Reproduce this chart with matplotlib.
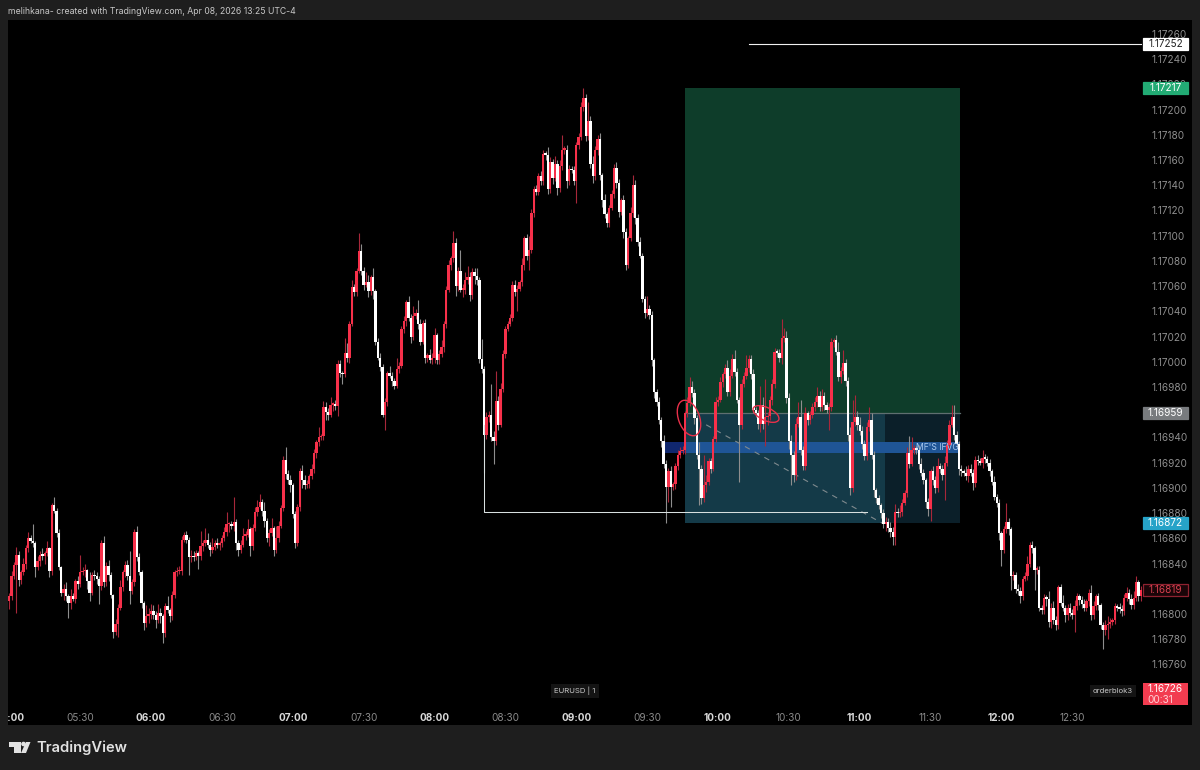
import matplotlib
matplotlib.use("Agg")
import matplotlib.pyplot as plt
from matplotlib.patches import Rectangle, Ellipse, Polygon, Circle
from matplotlib.transforms import Affine2D
import numpy as np

plt.rcParams['font.family'] = ['Inter', 'DejaVu Sans']

# EURUSD 1-minute closes, as points above 1.16000 (1 point = 0.00001); index = minutes after 05:00
closes = [
814,830,839,847,827,833,840,852,860,858, 856,837,842,847,846,848,852,834,886,882,
864,837,817,820,814,809,814,812,826,824, 833,834,835,826,817,831,830,828,822,856,
825,838,831,815,786,792,805,821,833,839, 830,818,825,865,845,833,809,793,798,800,
802,799,795,801,798,785,806,803,798,815, 833,834,834,859,863,859,845,846,845,848,
846,854,856,859,855,851,853,856,855,856, 860,865,871,871,870,873,856,851,855,862,
863,867,854,868,881,885,889,882,874,860, 864,868,851,860,870,884,922,911,906,902,
879,856,885,913,906,902,903,909,915,928, 936,940,941,964,960,958,966,966,965,998,
991,990,1007,1003,1030,1059,1055,1072,1088,1072, 1061,1063,1056,1067,1056,1016,1003,996,958,968,
991,989,985,981,994,997,1026,1032,1047,1035, 1020,1036,1039,1030,1016,1031,1003,1005,1001,1003,
1021,1001,1006,1012,1030,1057,1077,1082,1094,1060, 1072,1057,1057,1065,1067,1053,1071,1068,1065,1002,
994,942,956,958,940,937,969,950,978,1006, 1026,1030,1035,1061,1055,1058,1063,1077,1098,1084,
1089,1118,1137,1135,1147,1143,1165,1164,1137,1158, 1146,1157,1138,1155,1168,1168,1143,1153,1152,1143,
1172,1178,1202,1209,1179,1191,1157,1147,1168,1177, 1148,1128,1117,1110,1122,1133,1154,1142,1119,1128,
1103,1077,1098,1118,1140,1114,1095,1084,1050,1039, 1042,1037,1001,976,968,954,937,919,901,913,
901,903,917,926,929,930,959,967,980,975, 955,926,915,892,902,905,921,915,939,968,
970,984,990,995,976,989,1002,992,970,950, 982,989,995,1002,990,962,959,951,966,951,
956,957,970,982,1008,1007,1003,1019,1019,971, 937,926,910,951,956,930,917,959,954,958,
964,968,973,964,973,966,962,964,1016,1017, 1008,988,993,999,985,942,900,952,956,950,
945,935,925,948,954,926,898,892,886,880, 871,873,868,865,861,881,880,881,888,896,
928,919,930,931,930,919,912,906,889,883, 913,906,900,917,915,910,920,934,950,956,
942,935,915,913,912,909,915,912,904,922, 921,920,924,923,920,913,905,893,888,864,
851,867,873,867,830,831,820,818,814,828, 830,840,855,852,835,835,805,803,813,812,
794,805,795,791,821,809,805,799,805,801, 799,806,814,811,808,805,810,817,799,806,
814,807,791,787,791,792,794,795,806,805, 804,802,813,817,812,807,813,825,814,819,
]
# upper wicks (points above the body top)
wick_up = [
3,4,2,6,3,2,4,3,5,3, 13,2,4,3,5,2,6,1,2,7,
2,3,1,4,5,2,6,3,2,4, 14,3,5,1,7,2,4,3,2,3,
6,3,5,2,1,4,3,6,2,3, 4,20,3,2,5,3,2,1,9,5,
6,5,3,7,4,2,3,8,2,3, 2,3,4,3,2,3,2,5,4,3,
2,12,3,9,5,2,7,3,4,2, 3,4,10,2,3,20,2,3,4,6,
3,8,2,3,4,5,6,2,7,2, 3,8,2,10,4,2,3,10,3,4,
2,3,2,3,5,4,3,2,4,3, 2,8,2,5,4,3,6,2,4,3,
3,2,12,8,2,6,3,2,14,5, 3,8,6,2,7,2,3,4,2,3,
2,6,3,2,9,3,2,4,2,5, 3,8,3,10,4,2,3,2,5,4,
6,2,3,5,2,3,4,2,10,4, 3,17,5,6,9,4,3,3,6,2,
16,3,4,3,24,5,24,4,5,3, 2,2,3,3,4,3,2,5,2,3,
11,3,2,3,3,4,3,2,6,4, 3,6,3,5,12,3,4,3,2,3,
2,3,4,8,3,15,4,6,3,3, 4,2,5,2,2,3,3,4,3,2,
4,3,2,5,8,4,3,4,2,2, 10,3,3,2,2,4,2,5,3,3,
4,2,3,4,3,3,2,5,8,5, 3,3,10,3,24,5,3,3,2,4,
3,4,2,3,6,5,4,7,3,2, 4,3,10,3,3,4,2,3,15,6,
30,3,3,4,3,2,3,15,8,5, 4,5,3,4,12,14,3,5,2,3,
3,4,7,4,5,3,2,3,3,2, 4,8,3,10,3,3,6,18,18,5,
6,4,3,4,10,5,3,2,2,2, 3,4,3,5,4,6,3,5,3,2,
4,13,10,3,2,4,5,3,2,3, 2,4,3,7,3,3,5,4,4,10,
10,3,2,3,2,5,3,4,3,3, 4,3,6,3,2,3,2,4,2,3,
2,3,15,3,2,3,2,4,3,2, 3,6,2,3,2,3,3,2,3,2,
6,4,5,3,2,3,6,2,3,4, 3,5,3,2,3,4,2,3,6,4,
2,3,2,3,4,6,3,2,3,2, 4,3,3,4,3,4,5,5,2,3,
]
# lower wicks (points below the body bottom)
wick_down = [
6,3,2,38,5,3,2,4,3,2, 3,8,2,4,3,6,2,5,3,2,
3,2,3,6,4,12,5,2,3,4, 3,2,5,6,7,2,3,4,14,3,
4,3,5,2,5,3,10,2,3,4, 3,10,2,3,3,2,4,6,3,5,
4,3,6,2,5,8,3,2,4,3, 2,3,2,3,2,3,14,4,3,2,
10,3,4,2,3,5,3,2,3,4, 3,2,3,6,3,4,5,5,3,2,
3,2,8,3,2,3,2,4,5,3, 6,2,5,3,3,2,2,4,3,5,
3,4,2,3,6,3,2,3,2,3, 4,3,2,3,6,4,2,5,3,8,
3,8,2,3,4,2,3,3,2,3, 4,2,5,3,6,3,2,3,2,12,
3,2,4,3,2,3,2,3,4,3, 5,3,2,4,3,2,4,3,2,3,
4,3,3,2,4,3,2,4,3,8, 4,2,6,3,3,5,3,6,4,3,
3,30,3,4,3,18,3,4,2,2, 3,2,2,3,3,15,2,3,4,3,
11,3,3,3,3,3,3,4,4,3, 5,3,6,3,3,3,5,3,2,3,
17,3,2,3,4,3,3,5,3,4, 4,5,3,3,3,2,3,4,4,3,
5,4,3,2,3,5,3,2,3,4, 3,3,4,5,3,3,5,3,29,12,
16,3,4,3,2,2,3,3,2,3, 4,3,29,5,3,5,3,3,2,3,
3,2,4,3,3,3,2,3,3,45, 3,2,3,3,4,3,3,4,7,4,
18,6,3,4,3,3,3,5,3,4, 6,24,5,4,3,4,3,3,4,3,
3,3,4,3,3,4,3,16,3,4, 3,3,5,3,4,5,6,3,3,4,
3,4,3,3,3,3,5,4,3,4, 3,5,3,4,6,6,3,3,3,2,
3,3,2,3,3,4,3,3,5,5, 9,4,4,3,3,4,20,3,3,2,
4,3,5,4,3,3,4,3,6,3, 3,2,4,3,3,4,3,3,3,5,
13,3,3,4,11,3,3,3,5,3, 2,3,3,4,16,3,3,3,3,6,
4,5,3,4,3,3,3,5,4,3, 3,13,3,4,3,3,3,4,4,3,
3,4,3,15,4,11,3,3,3,3, 3,4,3,3,4,3,3,3,4,4,
]
minutes = list(range(len(closes)))

price_ticks = [1.16760,1.16780,1.16800,1.16840,1.16860,1.16880,1.16900,1.16920,1.16940,
               1.16980,1.17000,1.17020,1.17040,1.17060,1.17080,1.17100,1.17120,1.17140,1.17160,1.17180,1.17200,
               1.17220,1.17240,1.17260]
time_ticks = [0,30,60,90,120,150,180,210,240,270,300,330,360,390,420,450]
time_labels = ['05:00','05:30','06:00','06:30','07:00','07:30','08:00','08:30','09:00','09:30','10:00','10:30',
               '11:00','11:30','12:00','12:30']

BG = '#1e1e1e'
UP, DOWN = '#f7304a', '#ffffff'
W, H = 1200, 770
fig = plt.figure(figsize=(W/100, H/100), dpi=100, facecolor=BG)
px = Affine2D().scale(1, -1).translate(0, H)   # pixel coordinates, origin at top left

fig.patches.append(Rectangle((8, 20), 1184, 705, transform=px, facecolor='black', edgecolor='none', zorder=0))
ax = fig.add_axes([8/W, 1-706/H, 1134/W, 686/H], zorder=1)
ax.set_facecolor('none')
ax.set_xlim(-0.55, 479.5)
ax.set_ylim(1.16727, 1.17271)
for s in ax.spines.values():
    s.set_visible(False)

c = np.array(closes) * 1e-5 + 1.16
o = np.r_[c[0] - 0.00004, c[:-1]]
top, bot = np.maximum(o, c), np.minimum(o, c)
hi = top + np.array(wick_up) * 1e-5
lo = bot - np.array(wick_down) * 1e-5
is_up = c >= o

# position tools (drawn under the candles)
def band(m0, m1, p0, p1, color, alpha=1.0, z=1):
    ax.add_patch(Rectangle((m0, p0), m1 - m0, p1 - p0, facecolor=color, edgecolor='none', alpha=alpha, zorder=z))

band(286, 402.3, 1.16959, 1.17217, '#0e3d2a')
band(286, 370.5, 1.16872, 1.16959, '#143a48')
band(370.5, 402.3, 1.16872, 1.16959, '#0b1f29')
ax.plot([286, 402.3], [1.16959, 1.16959], color='#5f6f70', lw=0.9, zorder=2)
band(277, 286, 1.169275, 1.169365, '#10276e', z=2)
band(286, 402.3, 1.169275, 1.169365, '#1f5596', z=2)
ax.plot([295, 369.5], [1.16950, 1.16872], color='#7f8a8e', lw=0.8, ls=(0, (5, 5)), zorder=2)

# candles
ax.vlines(minutes, lo, hi, colors=['#a8273a' if u else '#8e8e8e' for u in is_up], lw=0.8, zorder=3)
ax.bar(minutes, np.maximum(top - bot, 0.000012), bottom=bot, width=1.0,
       color=[UP if u else DOWN for u in is_up], linewidth=0, zorder=4)

# drawings on top
ax.plot([201, 201, 363], [1.16950, 1.16881, 1.16881], color='#d8e0e0', lw=0.75, zorder=5)
ax.plot([313, 479.5], [1.17252, 1.17252], color='#f0f0f0', lw=0.8, zorder=5)
ax.text(402, 1.16932, "MF'S IFVG", color='#a9c9ef', fontsize=6.2, ha='right', va='center', zorder=6)

# ticks
ax.yaxis.tick_right()
ax.set_yticks(price_ticks)
ax.set_yticklabels([f'{p:.5f}' for p in price_ticks], color='#8e8e8e', fontsize=7.2)
ax.set_xticks(time_ticks)
ax.set_xticklabels(time_labels, color='#8a8a8a', fontsize=7.2)
for lab, t in zip(ax.get_xticklabels(), time_ticks):
    if t % 60 == 0:
        lab.set_color('#d8d8d8')
        lab.set_fontweight('bold')
ax.tick_params(axis='both', length=0)
ax.tick_params(axis='y', pad=7)
ax.tick_params(axis='x', pad=5)
fig.canvas.draw()

def price_to_y(p):
    return H - ax.transData.transform((0, p))[1]

def price_tag(p, fc, tc, ec=None, txt=None):
    y = price_to_y(p)
    fig.patches.append(Rectangle((1143, y - 6), 45, 12, transform=px, facecolor=fc, edgecolor=ec or fc, lw=0.9, zorder=5))
    fig.text(1165.5/W, 1 - y/H, txt or f'{p:.5f}', color=tc, fontsize=7.2, ha='center', va='center', zorder=6)

price_tag(1.17252, '#ffffff', '#222222')
price_tag(1.17217, '#22ab74', '#ffffff')
price_tag(1.16959, '#787b7e', '#ffffff')
price_tag(1.16872, '#26a3c8', '#ffffff')
price_tag(1.16819, '#1a0508', '#d8404f', ec='#8e2230')

fig.patches.append(Rectangle((1143, 683), 45, 22, transform=px, facecolor='#f23c50', edgecolor='none', zorder=5))
fig.text(1165.5/W, 1 - 689/H, '1.16726', color='#ffffff', fontsize=7.2, ha='center', va='center', zorder=6)
fig.text(1160/W, 1 - 700/H, '00:31', color='#ffd0d5', fontsize=7.2, ha='center', va='center', zorder=6)

# small pane labels
fig.text(575/W, 1 - 691/H, 'EURUSD | 1', color='#c8c8c8', fontsize=5.6, ha='center', va='center', zorder=6,
         bbox=dict(facecolor='#141414', edgecolor='none', pad=2.2))
fig.text(1113/W, 1 - 691/H, 'orderblok3', color='#c8c8c8', fontsize=5.6, ha='center', va='center', zorder=6,
         bbox=dict(facecolor='#141414', edgecolor='none', pad=2.2))

# hand-drawn red ellipses
for (cx, cy, w, h, ang) in [(689, 418, 21, 37, -20), (766, 414, 28, 13, 25)]:
    fig.patches.append(Ellipse((cx, cy), w, h, angle=ang, transform=px, facecolor='none',
                               edgecolor='#e8304a', lw=1.0, zorder=6))

# left edge mask, so the first time label is cut as in the screenshot
fig.patches.append(Rectangle((0, 0), 8, 770, transform=px, facecolor=BG, edgecolor='none', zorder=4))

# header and logo
fig.text(8/W, 1 - 11.5/H, 'melihkana- created with TradingView.com, Apr 08, 2026 13:25 UTC-4',
         color='#c8c8c8', fontsize=6.25, ha='left', va='center', zorder=6)
LOGO = '#e2e2e2'
fig.patches.append(Polygon([(9, 742), (21, 742), (21, 753), (14, 753), (14, 746.5), (9, 746.5)], closed=True,
                           transform=px, facecolor=LOGO, edgecolor='none', zorder=6))
fig.patches.append(Circle((23.5, 744), 2.3, transform=px, facecolor=LOGO, edgecolor='none', zorder=6))
fig.patches.append(Polygon([(26, 742), (30.5, 742), (26, 753), (21, 753)], closed=True,
                           transform=px, facecolor=LOGO, edgecolor='none', zorder=6))
fig.text(36/W, 1 - 747.5/H, 'TradingView', color=LOGO, fontsize=10.6, fontweight='semibold',
         ha='left', va='center', zorder=6)

fig.savefig('out.png', dpi=100, facecolor=BG)
